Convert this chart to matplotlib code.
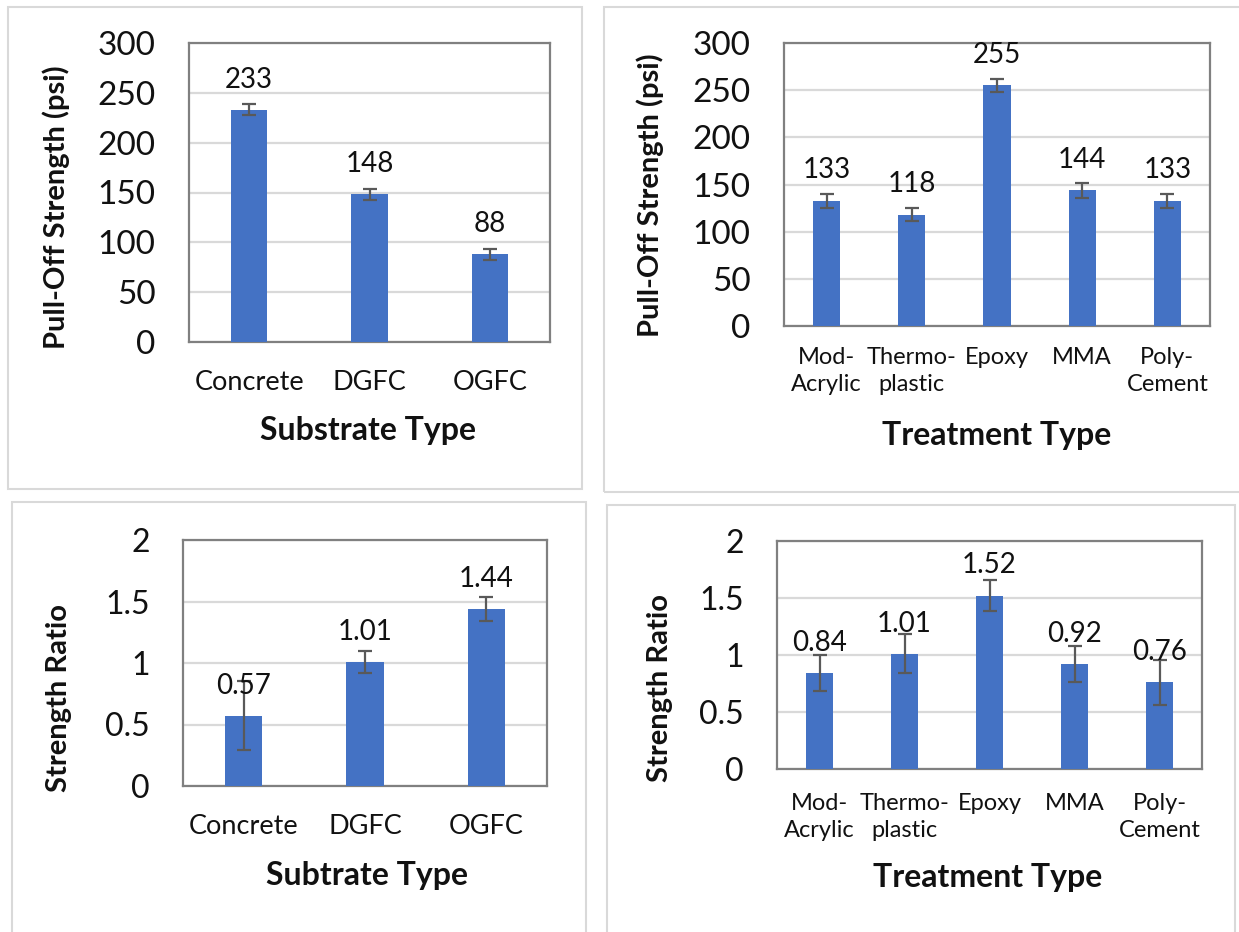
import matplotlib
matplotlib.use("Agg")
import matplotlib.pyplot as plt
from matplotlib.patches import Rectangle

plt.rcParams['font.family'] = ['Lato', 'DejaVu Sans']

# --- data ---
substrates = ["Concrete", "DGFC", "OGFC"]
treatments = ["Mod-\nAcrylic", "Thermo-\nplastic", "Epoxy", "MMA", "Poly-\nCement"]

pull_substrate = [233, 148, 88]
pull_substrate_err = [5.5, 5.5, 5.5]
pull_treatment = [133, 118, 255, 144, 133]
pull_treatment_err = [7.4, 7.0, 7.0, 8.0, 7.4]

ratio_substrate = [0.57, 1.01, 1.44]
ratio_substrate_err = [0.28, 0.09, 0.10]
ratio_treatment = [0.84, 1.01, 1.52, 0.92, 0.76]
ratio_treatment_err = [0.16, 0.17, 0.135, 0.155, 0.20]

W, H = 1239, 932
BLUE = "#4472C4"


def fbox(x0, y0, x1, y1):
    """pixel box (top-left origin) -> figure fraction [l, b, w, h]"""
    return [x0 / W, 1 - y1 / H, (x1 - x0) / W, (y1 - y0) / H]


def ftext(x, y, s, **kw):
    fig.text(x / W, 1 - y / H, s, ha='center', va='center', color='#111111', **kw)


def bar_panel(ax, cats, vals, errs, ymax, step, fmt, width, tick_fs, cat_fs, cat_pad):
    x = range(len(cats))
    ax.bar(x, vals, width=width, color=BLUE, zorder=3)
    ax.errorbar(x, vals, yerr=errs, fmt='none', ecolor="#595959", elinewidth=1.6,
                capsize=5, capthick=1.6, zorder=4)
    for xi, v in zip(x, vals):
        ax.annotate(fmt.format(v), (xi, v), xytext=(0, 16), textcoords='offset points',
                    ha='center', va='baseline', fontsize=20, color='#111111', zorder=5)
    ax.set_xlim(-0.5, len(cats) - 0.5)
    ax.set_ylim(0, ymax)
    ticks = [i * step for i in range(int(round(ymax / step)) + 1)]
    ax.set_yticks(ticks)
    ax.set_yticklabels([("%g" % t) for t in ticks], fontsize=tick_fs)
    ax.set_xticks(list(x))
    ax.set_xticklabels(cats, fontsize=cat_fs, linespacing=1.35)
    ax.tick_params(axis='both', length=0, colors='#111111')
    ax.tick_params(axis='y', pad=24)
    ax.tick_params(axis='x', pad=cat_pad)
    ax.grid(axis='y', color='#d9d9d9', lw=1.6, zorder=0)
    ax.set_axisbelow(True)
    for sp in ax.spines.values():
        sp.set_color('#808080')
        sp.set_linewidth(1.6)


fig = plt.figure(figsize=(W / 100, H / 100), dpi=100)

# light panel frames
for x0, y0, x1, y1 in [(8, 7, 582, 489), (604, 7, 1245, 492),
                       (12, 502, 586, 940), (607, 505, 1235, 940)]:
    fig.patches.append(Rectangle((x0 / W, 1 - y1 / H), (x1 - x0) / W, (y1 - y0) / H,
                                 transform=fig.transFigure, fill=False,
                                 edgecolor='#d9d9d9', lw=1.5))

ax1 = fig.add_axes(fbox(189, 43, 550, 342))
bar_panel(ax1, substrates, pull_substrate, pull_substrate_err, 300, 50, "{:.0f}",
          0.3, 24, 19.5, 20)
ftext(56, 207, "Pull-Off Strength (psi)", rotation=90, fontsize=21, fontweight='bold')
ftext(368, 431, "Substrate Type", fontsize=23, fontweight='bold')

ax2 = fig.add_axes(fbox(784, 43, 1210, 326))
bar_panel(ax2, treatments, pull_treatment, pull_treatment_err, 300, 50, "{:.0f}",
          0.32, 24, 17, 15)
ftext(650, 195, "Pull-Off Strength (psi)", rotation=90, fontsize=21, fontweight='bold')
ftext(997, 435, "Treatment Type", fontsize=23, fontweight='bold')

ax3 = fig.add_axes(fbox(183, 540, 547, 786))
bar_panel(ax3, substrates, ratio_substrate, ratio_substrate_err, 2, 0.5, "{:.2f}",
          0.31, 23, 19.5, 20)
ftext(59, 698, "Strength Ratio", rotation=90, fontsize=21, fontweight='bold')
ftext(367, 875, "Subtrate Type", fontsize=23, fontweight='bold')

ax4 = fig.add_axes(fbox(777, 541, 1202, 769))
bar_panel(ax4, treatments, ratio_treatment, ratio_treatment_err, 2, 0.5, "{:.2f}",
          0.31, 23, 17, 17)
ftext(660, 688, "Strength Ratio", rotation=90, fontsize=21, fontweight='bold')
ftext(988, 877, "Treatment Type", fontsize=23, fontweight='bold')

fig.savefig("out.png", dpi=100, facecolor='white')
